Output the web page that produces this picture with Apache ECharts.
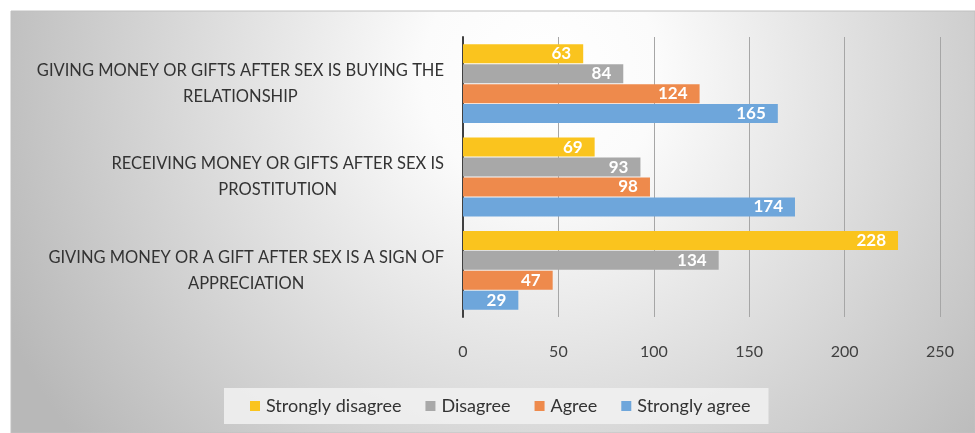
<!DOCTYPE html>
<html>
<head>
<meta charset="utf-8">
<script src="https://cdn.jsdelivr.net/npm/echarts@6/dist/echarts.min.js"></script>
<style>html,body{margin:0;padding:0;background:#fff;}#c{width:975px;height:433px;}</style>
</head>
<body>
<div id="c"></div>
<script>
var categories = [
  "GIVING MONEY OR GIFTS AFTER SEX IS BUYING THE\nRELATIONSHIP",
  "RECEIVING MONEY OR GIFTS AFTER SEX IS\nPROSTITUTION",
  "GIVING MONEY OR A GIFT AFTER SEX IS A SIGN OF\nAPPRECIATION"
];
var seriesNames = ["Strongly disagree", "Disagree", "Agree", "Strongly agree"];
var stronglyDisagree = [63, 69, 228];
var disagree = [84, 93, 134];
var agree = [124, 98, 47];
var stronglyAgree = [165, 174, 29];
var xTicks = [0, 50, 100, 150, 200, 250];

var colors = ['#FAC41E', '#A8A8A8', '#EE8A4C', '#6EA6DB'];
var values = [stronglyDisagree, disagree, agree, stronglyAgree];
var FONT = 'Lato';

var chart = echarts.init(document.getElementById('c'), null, {renderer: 'canvas'});
var series = seriesNames.map(function (n, i) {
  return {
    name: n,
    type: 'bar',
    data: values[i],
    barWidth: 19,
    barGap: '5%',
    itemStyle: {color: colors[i]},
    label: {
      show: true,
      position: 'insideRight',
      distance: 12,
      color: '#ffffff',
      fontFamily: FONT,
      fontSize: 17,
      fontWeight: 'bold'
    },
    emphasis: {disabled: true}
  };
});

chart.setOption({
  animation: false,
  graphic: [{
    type: 'rect',
    z: -10,
    silent: true,
    shape: {x: 11, y: 11, width: 964, height: 422},
    style: {
      fill: {
        type: 'radial', x: 0.55, y: 0.15, r: 1.4,
        colorStops: [{offset: 0, color: '#ffffff'}, {offset: 0.2, color: '#fbfbfb'}, {offset: 1, color: '#b8b8b8'}]
      },
      stroke: '#c0c0c0',
      lineWidth: 1
    }
  }],
  grid: {left: 463, right: 35, top: 37, bottom: 116, containLabel: false},
  legend: {
    data: seriesNames,
    left: 224,
    top: 388,
    orient: 'horizontal',
    backgroundColor: 'rgba(240,240,240,0.9)',
    padding: [9, 18, 9, 26],
    icon: 'rect',
    itemWidth: 10,
    itemHeight: 10,
    itemGap: 24,
    textStyle: {color: '#333333', fontFamily: FONT, fontSize: 18, padding: [0, 0, 0, 1]}
  },
  xAxis: {
    type: 'value',
    min: 0,
    max: 250,
    interval: 50,
    axisLine: {show: false},
    axisTick: {show: false},
    splitLine: {show: true, lineStyle: {color: '#a6a6a6', width: 1}},
    axisLabel: {
      color: '#404040', fontFamily: FONT, fontSize: 16, margin: 27,
      formatter: function (v) { return xTicks.indexOf(v) >= 0 ? String(v) : ''; }
    }
  },
  yAxis: {
    type: 'category',
    inverse: true,
    data: categories,
    axisLine: {show: true, lineStyle: {color: '#404040', width: 2}},
    axisTick: {show: false},
    axisLabel: {
      margin: 19,
      lineHeight: 26,
      color: '#404040',
      fontFamily: FONT,
      fontSize: 16.5,
      formatter: function (v) {
        return v.split('\n').map(function (s) { return '{a|' + s + '}'; }).join('\n');
      },
      rich: {a: {align: 'center', color: '#333333', fontFamily: FONT, fontSize: 16.5, lineHeight: 26}}
    }
  },
  series: series
});
</script>
</body>
</html>
